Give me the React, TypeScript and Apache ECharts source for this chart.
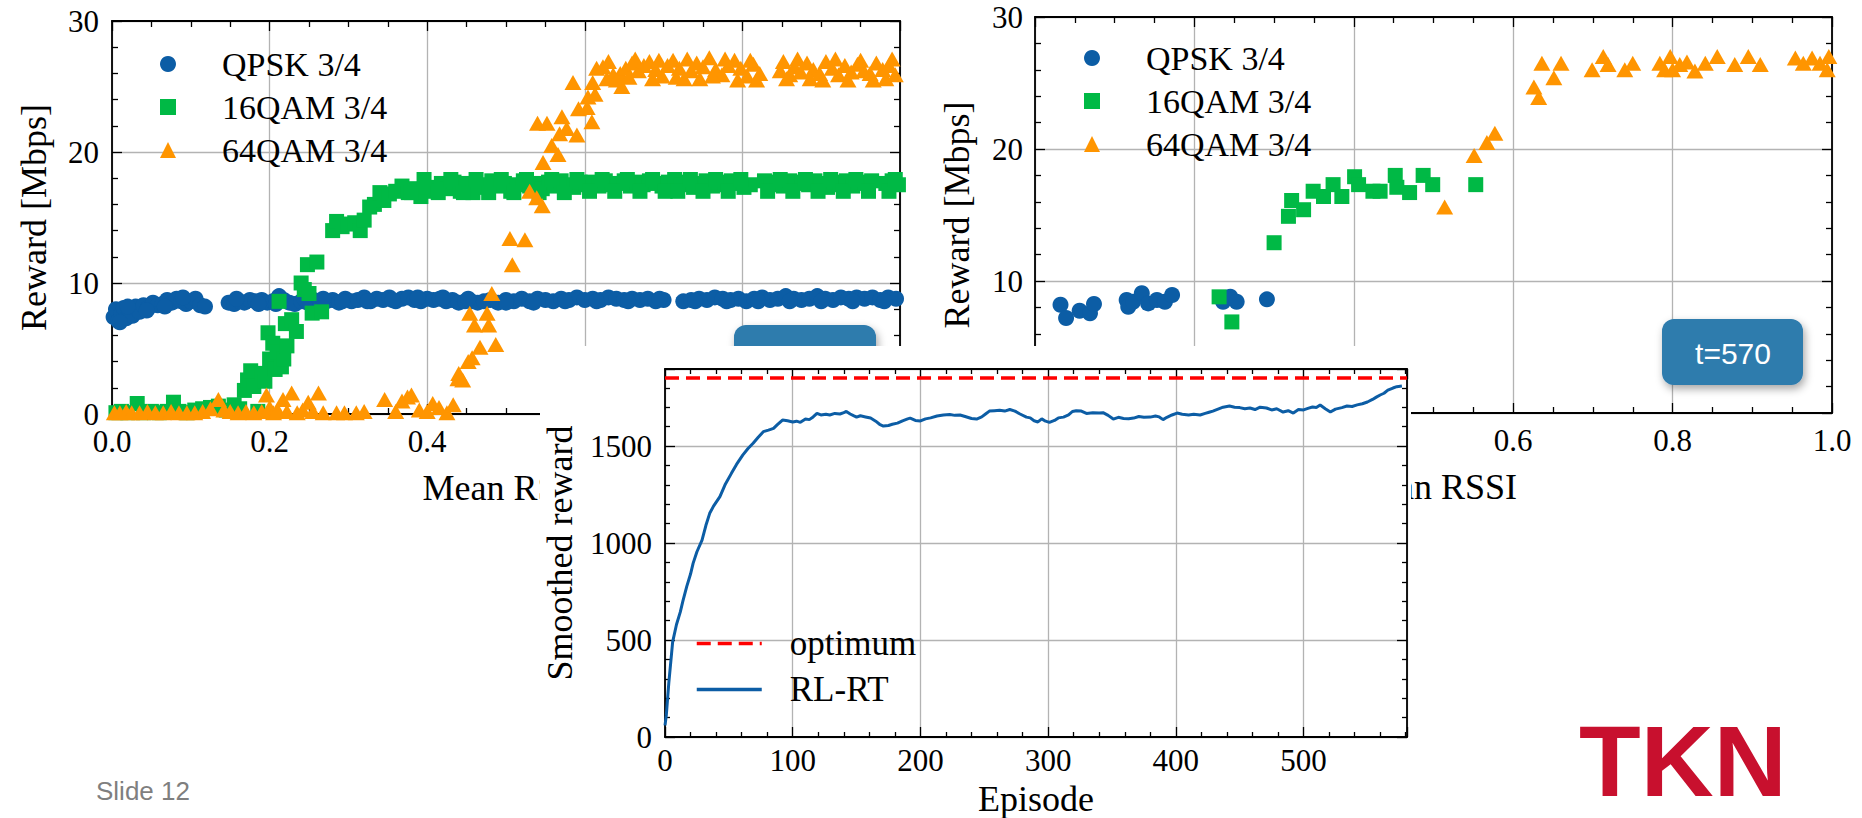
import React, { useEffect, useRef } from "react";
import * as echarts from "echarts";

// ---------------- data ----------------
const SERIES_NAMES = ["QPSK 3/4", "16QAM 3/4", "64QAM 3/4"];
// tick labels that are not hidden behind the inset chart
const LEFT_X_LABELS = [0, 0.2, 0.4];
const RIGHT_X_LABELS = [0.6, 0.8, 1.0];
const LEFT_Y_LABELS = [0, 10, 20, 30];
const RIGHT_Y_LABELS = [10, 20, 30];

const QPSK_LEFT: [number, number][] = [
  [0.002, 7.4], [0.005, 8.0], [0.008, 7.1], [0.012, 7.7], [0.015, 8.1], [0.018, 7.3], [0.022, 7.9], [0.026, 7.5],
  [0.03, 8.2], [0.035, 7.8], [0.04, 8.3], [0.046, 8.1], [0.052, 8.5], [0.058, 8.3], [0.064, 8.4], [0.07, 8.7],
  [0.076, 8.5], [0.082, 8.8], [0.088, 8.6], [0.094, 8.4], [0.1, 8.6], [0.106, 8.8], [0.112, 8.3], [0.118, 8.2],
  [0.148, 8.5], [0.155, 8.4], [0.162, 8.6], [0.168, 8.5], [0.175, 8.7], [0.182, 8.6], [0.19, 8.7], [0.197, 8.5],
  [0.204, 8.6], [0.212, 9.0], [0.218, 8.7], [0.225, 8.5], [0.232, 8.4], [0.24, 8.6], [0.248, 8.5], [0.256, 8.7],
  [0.264, 8.5], [0.272, 8.6], [0.28, 8.7], [0.288, 8.5], [0.296, 8.8], [0.304, 8.6], [0.312, 8.7], [0.32, 8.9],
  [0.328, 8.6], [0.336, 8.8], [0.344, 8.7], [0.352, 8.9], [0.36, 8.6], [0.368, 8.8], [0.376, 8.9], [0.384, 8.7],
  [0.392, 8.6], [0.4, 8.8], [0.408, 8.7], [0.416, 8.8], [0.424, 8.6], [0.432, 8.7], [0.44, 8.5], [0.448, 8.6],
  [0.456, 8.6], [0.464, 8.5], [0.472, 8.6], [0.48, 8.7], [0.49, 8.5], [0.5, 8.7], [0.51, 8.6], [0.52, 8.8],
  [0.53, 8.6], [0.54, 8.8], [0.55, 8.7], [0.56, 8.6], [0.57, 8.8], [0.58, 8.7], [0.59, 8.9], [0.6, 8.7],
  [0.61, 8.8], [0.62, 8.7], [0.63, 8.9], [0.64, 8.8], [0.65, 8.7], [0.66, 8.8], [0.67, 8.7], [0.68, 8.8],
  [0.69, 8.6], [0.7, 8.7], [0.725, 8.6], [0.735, 8.7], [0.745, 8.8], [0.755, 8.7], [0.765, 8.9], [0.775, 8.8],
  [0.785, 8.7], [0.795, 8.8], [0.805, 8.6], [0.815, 8.8], [0.825, 8.9], [0.835, 8.7], [0.845, 8.8], [0.855, 9.0],
  [0.865, 8.8], [0.875, 8.7], [0.885, 8.8], [0.895, 9.0], [0.905, 8.8], [0.915, 8.7], [0.925, 8.9], [0.935, 8.8],
  [0.945, 8.9], [0.955, 8.8], [0.965, 8.9], [0.975, 8.7], [0.985, 8.9], [0.995, 8.8],
  [0.01, 7.0], [0.02, 8.2], [0.044, 7.9], [0.067, 8.2], [0.09, 8.9], [0.158, 8.8], [0.186, 8.4], [0.208, 8.4],
  [0.244, 8.8], [0.268, 8.8], [0.292, 8.6], [0.324, 8.6], [0.356, 8.7], [0.388, 8.9], [0.42, 8.9], [0.452, 8.8],
  [0.5, 8.5], [0.535, 8.5], [0.575, 8.6], [0.615, 8.6], [0.655, 8.6], [0.695, 8.8], [0.74, 8.6], [0.78, 8.6],
  [0.82, 8.6], [0.86, 8.6], [0.9, 8.6], [0.94, 8.6], [0.98, 8.6],
];

const QAM16_LEFT: [number, number][] = [
  [0.005, 0.1], [0.012, 0.2], [0.02, 0.1], [0.032, 0.8], [0.04, 0.1], [0.05, 0.2], [0.06, 0.1], [0.07, 0.2],
  [0.078, 0.9], [0.085, 0.2], [0.095, 0.1], [0.105, 0.3], [0.115, 0.4], [0.125, 0.5], [0.135, 0.6], [0.145, 0.3],
  [0.155, 0.7], [0.162, 0.4], [0.168, 1.8], [0.172, 2.6], [0.176, 3.3], [0.18, 2.1], [0.185, 0.2], [0.19, 3.1],
  [0.194, 2.5], [0.198, 6.2], [0.2, 4.2], [0.204, 5.4], [0.207, 3.4], [0.21, 4.7], [0.212, 8.6], [0.215, 3.6],
  [0.218, 4.2], [0.22, 6.9], [0.222, 5.2], [0.228, 7.2], [0.234, 6.3], [0.24, 10.0], [0.244, 9.5], [0.248, 11.4],
  [0.25, 9.2], [0.254, 7.7], [0.26, 11.6], [0.266, 7.8], [0.28, 14.0], [0.285, 14.7], [0.292, 14.3], [0.3, 14.5],
  [0.308, 14.6], [0.315, 14.0], [0.32, 14.8], [0.327, 15.8], [0.333, 16.0], [0.34, 16.9], [0.345, 16.3], [0.352, 16.8],
  [0.36, 17.0], [0.368, 17.4], [0.376, 16.9], [0.384, 17.2], [0.392, 16.6], [0.4, 17.3], [0.41, 17.0], [0.418, 17.6],
  [0.426, 17.2], [0.434, 17.7], [0.442, 17.0], [0.45, 17.6], [0.458, 16.9], [0.466, 17.5], [0.474, 17.3], [0.482, 17.8],
  [0.49, 17.4], [0.498, 17.6], [0.506, 17.0], [0.514, 17.5], [0.522, 17.8], [0.53, 17.4], [0.538, 17.6], [0.546, 17.2],
  [0.554, 17.7], [0.562, 17.4], [0.57, 17.8], [0.578, 17.5], [0.586, 17.3], [0.594, 17.7], [0.602, 17.5], [0.61, 17.7],
  [0.618, 17.4], [0.626, 17.8], [0.634, 17.5], [0.642, 17.6], [0.65, 17.8], [0.658, 17.4], [0.666, 17.7], [0.674, 17.5],
  [0.682, 17.8], [0.69, 17.6], [0.698, 17.4], [0.706, 17.7], [0.714, 17.9], [0.722, 17.5], [0.73, 17.7], [0.738, 17.3],
  [0.746, 17.6], [0.754, 17.8], [0.762, 17.4], [0.77, 17.7], [0.778, 17.5], [0.786, 17.8], [0.794, 17.6], [0.802, 17.3],
  [0.81, 17.5], [0.828, 17.8], [0.836, 17.5], [0.844, 17.7], [0.852, 17.4], [0.86, 17.8], [0.868, 17.6], [0.876, 17.7],
  [0.884, 17.5], [0.892, 17.8], [0.9, 17.6], [0.908, 17.3], [0.916, 17.7], [0.924, 17.5], [0.932, 17.8], [0.94, 17.4],
  [0.948, 17.7], [0.956, 17.6], [0.964, 17.8], [0.982, 17.6], [0.99, 17.8], [0.998, 17.5],
  [0.38, 16.9], [0.396, 17.9], [0.414, 16.9], [0.43, 17.9], [0.446, 16.9], [0.462, 17.9], [0.478, 16.9], [0.494, 17.9],
  [0.51, 16.9], [0.526, 17.9], [0.542, 16.9], [0.558, 17.9], [0.574, 16.9], [0.59, 17.9], [0.606, 17.0], [0.622, 17.9],
  [0.638, 17.0], [0.654, 17.9], [0.67, 17.0], [0.686, 17.9], [0.702, 17.0], [0.718, 17.0], [0.734, 17.9], [0.75, 17.0],
  [0.766, 17.9], [0.782, 17.0], [0.798, 17.9], [0.832, 17.0], [0.848, 17.9], [0.864, 17.0], [0.88, 17.9], [0.896, 17.0],
  [0.912, 17.9], [0.928, 17.0], [0.944, 17.9], [0.96, 17.0], [0.986, 17.0], [0.994, 17.9],
];

const QAM64_LEFT: [number, number][] = [
  [0.003, 0.1], [0.01, 0.1], [0.018, 0.2], [0.025, 0.1], [0.035, 0.1], [0.045, 0.2], [0.055, 0.1], [0.065, 0.1],
  [0.075, 0.2], [0.085, 0.1], [0.095, 0.1], [0.105, 0.1], [0.115, 0.2], [0.125, 0.4], [0.135, 1.1], [0.142, 0.3],
  [0.15, 0.2], [0.16, 0.1], [0.17, 0.2], [0.18, 0.1], [0.19, 0.2], [0.196, 1.45], [0.2, 0.5], [0.205, 0.1],
  [0.21, 0.3], [0.217, 1.1], [0.222, 0.2], [0.228, 1.6], [0.235, 0.1], [0.242, 0.3], [0.249, 0.9], [0.255, 0.2],
  [0.262, 1.6], [0.268, 0.1], [0.285, 0.1], [0.295, 0.1], [0.31, 0.1], [0.32, 0.2], [0.346, 1.1], [0.36, 0.2],
  [0.368, 1.0], [0.375, 1.3], [0.38, 1.45], [0.39, 0.3], [0.4, 0.2], [0.407, 0.8], [0.415, 0.5], [0.425, 0.1],
  [0.433, 0.7], [0.439, 2.7], [0.44, 3.1], [0.445, 2.6], [0.452, 4.0], [0.457, 4.3], [0.46, 6.8], [0.454, 7.7],
  [0.467, 5.1], [0.476, 7.7], [0.478, 6.8], [0.482, 9.2], [0.487, 5.3], [0.505, 13.4], [0.508, 11.4], [0.524, 13.3],
  [0.53, 17.0], [0.539, 16.5], [0.546, 15.9], [0.547, 19.2], [0.54, 22.2], [0.552, 22.2], [0.558, 20.5], [0.566, 19.8],
  [0.568, 21.4], [0.571, 22.7], [0.577, 21.8], [0.585, 25.3], [0.59, 21.3], [0.592, 23.3], [0.603, 23.4], [0.604, 24.2],
  [0.609, 22.3], [0.61, 25.3], [0.613, 24.4], [0.615, 26.4], [0.623, 26.5], [0.628, 25.6], [0.636, 25.9], [0.645, 26.0],
  [0.647, 25.0], [0.652, 26.4], [0.66, 26.8], [0.668, 26.2], [0.675, 26.6], [0.682, 26.9], [0.69, 26.3], [0.698, 25.8],
  [0.705, 26.6], [0.712, 27.0], [0.72, 26.4], [0.726, 25.6], [0.735, 26.2], [0.742, 26.8], [0.75, 26.5], [0.758, 27.2],
  [0.766, 26.3], [0.774, 25.9], [0.782, 26.6], [0.79, 27.0], [0.798, 26.4], [0.806, 25.8], [0.814, 26.7], [0.822, 26.0],
  [0.848, 26.2], [0.852, 26.9], [0.86, 25.9], [0.866, 26.5], [0.874, 26.1], [0.882, 26.8], [0.89, 26.3], [0.898, 26.0],
  [0.906, 26.9], [0.914, 26.4], [0.922, 25.9], [0.93, 26.6], [0.938, 26.1], [0.946, 26.7], [0.954, 26.2], [0.962, 26.0],
  [0.97, 26.8], [0.978, 26.3], [0.986, 26.6], [0.994, 25.9],
  [0.63, 26.9], [0.64, 25.5], [0.656, 25.7], [0.664, 27.1], [0.686, 25.6], [0.694, 27.0], [0.716, 25.7], [0.73, 27.1],
  [0.746, 25.6], [0.762, 25.8], [0.778, 27.1], [0.794, 25.5], [0.81, 27.0], [0.818, 25.5], [0.856, 25.6], [0.87, 27.1],
  [0.886, 25.6], [0.902, 25.5], [0.918, 27.1], [0.934, 25.5], [0.95, 27.0], [0.966, 25.5], [0.982, 25.6], [0.99, 27.1],
];

const QPSK_RIGHT: [number, number][] = [
  [0.032, 8.2], [0.039, 7.2], [0.056, 7.75], [0.069, 7.55], [0.074, 8.26], [0.115, 8.56], [0.117, 8.05], [0.123, 8.43],
  [0.134, 9.07], [0.142, 8.3], [0.153, 8.56], [0.163, 8.43], [0.172, 8.94], [0.236, 8.43], [0.245, 8.81], [0.253, 8.43],
  [0.291, 8.61],
];

const QAM16_RIGHT: [number, number][] = [
  [0.231, 8.8], [0.247, 6.9], [0.3, 12.9], [0.318, 14.9], [0.322, 16.1], [0.337, 15.4], [0.349, 16.8], [0.362, 16.4],
  [0.374, 17.3], [0.385, 16.4], [0.401, 17.9], [0.406, 17.3], [0.424, 16.8], [0.433, 16.8], [0.452, 18.0], [0.454, 17.1],
  [0.47, 16.7], [0.487, 18.0], [0.499, 17.3], [0.553, 17.3],
];

const QAM64_RIGHT: [number, number][] = [
  [0.514, 15.6], [0.551, 19.5], [0.567, 20.5], [0.577, 21.2], [0.626, 24.7], [0.632, 23.9], [0.636, 26.5], [0.651, 25.4],
  [0.66, 26.5], [0.699, 26.0], [0.713, 27.0], [0.719, 26.4], [0.74, 26.0], [0.75, 26.5], [0.784, 26.5], [0.79, 26.0],
  [0.797, 27.0], [0.8, 26.0], [0.809, 26.4], [0.818, 26.6], [0.828, 25.9], [0.841, 26.5], [0.856, 27.0], [0.878, 26.4],
  [0.895, 27.0], [0.91, 26.4], [0.954, 26.9], [0.964, 26.5], [0.975, 26.9], [0.985, 26.5], [0.994, 26.0], [0.996, 27.0],
];

// smoothed reward per episode [episode, reward]
const RL_RT: [number, number][] = [
  [0, 60], [1, 110], [3, 280], [6, 490], [9, 580], [12, 645], [14, 700], [17, 775], [20, 840], [22, 895], [25, 955],
  [29, 1015], [32, 1090], [35, 1153], [38, 1190], [43, 1239], [47, 1300], [52, 1359], [56, 1405], [61, 1454], [65, 1487],
  [69, 1514], [73, 1545], [77, 1574], [81, 1582], [85, 1591], [88, 1610], [92, 1634], [96, 1630], [100, 1624], [103, 1628],
  [106, 1622], [110, 1639], [113, 1636], [116, 1650], [119, 1668], [122, 1660], [126, 1664], [129, 1660], [133, 1668],
  [137, 1665], [140, 1672], [142, 1678], [145, 1665], [148, 1655], [150, 1649], [153, 1656], [157, 1650], [161, 1644],
  [165, 1628], [168, 1612], [171, 1603], [175, 1606], [178, 1612], [182, 1618], [186, 1630], [190, 1640], [192, 1644],
  [196, 1632], [200, 1629], [204, 1640], [208, 1645], [213, 1655], [218, 1660], [223, 1662], [227, 1658], [231, 1660],
  [235, 1652], [240, 1642], [244, 1639], [248, 1650], [251, 1665], [254, 1680], [258, 1682], [262, 1684], [266, 1680],
  [270, 1688], [274, 1680], [278, 1665], [283, 1649], [286, 1645], [289, 1630], [292, 1624], [295, 1640], [298, 1628],
  [301, 1622], [305, 1632], [308, 1645], [312, 1649], [316, 1660], [319, 1678], [322, 1682], [326, 1680], [330, 1668],
  [335, 1672], [340, 1670], [343, 1672], [347, 1658], [351, 1639], [355, 1648], [359, 1642], [363, 1640], [367, 1644],
  [371, 1652], [375, 1648], [380, 1649], [384, 1655], [387, 1650], [390, 1636], [393, 1648], [397, 1660], [401, 1670],
  [405, 1664], [410, 1660], [414, 1664], [419, 1660], [423, 1668], [426, 1674], [429, 1680], [433, 1690], [437, 1700],
  [442, 1706], [446, 1700], [450, 1698], [454, 1692], [458, 1696], [462, 1688], [466, 1700], [471, 1696], [475, 1686],
  [479, 1692], [484, 1675], [488, 1682], [492, 1670], [496, 1688], [500, 1686], [504, 1695], [507, 1701], [510, 1698],
  [513, 1711], [517, 1692], [521, 1675], [525, 1690], [530, 1698], [534, 1706], [538, 1704], [542, 1712], [546, 1718],
  [550, 1727], [554, 1740], [557, 1752], [560, 1763], [563, 1772], [566, 1788], [570, 1799], [573, 1806], [577, 1809],
];
const OPTIMUM = 1850;
const EPISODE_RANGE = [0, 581];
const REWARD_RANGE = [0, 1897];
const BOX_LABEL = "t=570";

// ---------------- style ----------------
const BLUE = "#0C5DA5";
const GREEN = "#00B945";
const ORANGE = "#FF9500";
const RED = "#FF0000";
const BOX = "#2E7BAD";
const SERIF = "'Liberation Serif', 'Times New Roman', serif";
const SANS = "'Liberation Sans', Arial, sans-serif";
const GRIDC = "#b3b3b3";

const tickLine = { color: "#000", width: 1.3 };

const near = (list: number[], v: number) => list.some((t) => Math.abs(t - v) < 1e-6);

function axis(opts: any) {
  const {
    gridIndex, position, min, max, interval, minorSplit, labels, name, nameGap, labelMargin, fmt, majorLen, minorLen,
  } = opts;
  return {
    type: "value",
    gridIndex,
    position,
    min,
    max,
    interval,
    axisLine: { show: true, onZero: false, lineStyle: { color: "#000", width: 1.8 } },
    axisTick: { show: true, inside: true, length: majorLen, lineStyle: tickLine },
    minorTick: { show: true, splitNumber: minorSplit, length: minorLen, lineStyle: tickLine },
    splitLine: { show: !!labels, lineStyle: { color: GRIDC, width: 1.3 } },
    minorSplitLine: { show: false },
    axisLabel: {
      show: !!labels,
      margin: labelMargin,
      fontFamily: SERIF,
      fontSize: 31,
      color: "#000",
      formatter: fmt,
      showMaxLabel: opts.showMax !== false,
      hideOverlap: false,
    },
    name: labels ? name : "",
    nameLocation: "middle",
    nameGap,
    nameMoveOverlap: false,
    nameTextStyle: { fontFamily: SERIF, fontSize: 36, color: "#000" },
  };
}

function scatter(name: string, data: [number, number][], xi: number, yi: number) {
  const idx = SERIES_NAMES.indexOf(name);
  const color = [BLUE, GREEN, ORANGE][idx];
  const symbol = ["circle", "rect", "triangle"][idx];
  const size = [16, 15, [17, 15]][idx];
  return {
    type: "scatter",
    name,
    data,
    xAxisIndex: xi,
    yAxisIndex: yi,
    symbol,
    symbolSize: size,
    itemStyle: { color, opacity: 1 },
    clip: false,
    z: 3,
  };
}

function legendAt(left: number, top: number) {
  return {
    orient: "vertical",
    left,
    top,
    padding: 0,
    itemWidth: 16,
    itemHeight: 16,
    itemGap: 9,
    data: SERIES_NAMES,
    formatter: (n: string) => `{t|${n}}`,
    textStyle: {
      fontFamily: SERIF,
      fontSize: 34,
      color: "#000",
      rich: { t: { fontFamily: SERIF, fontSize: 34, color: "#000", padding: [0, 0, 0, 41] } },
    },
    selectedMode: false,
  };
}

function buildMain(): any {
  const fmtXL = (v: number) => (near(LEFT_X_LABELS, v) ? v.toFixed(1) : "");
  const fmtXR = (v: number) => (near(RIGHT_X_LABELS, v) ? v.toFixed(1) : "");
  const fmtYL = (v: number) => (near(LEFT_Y_LABELS, v) ? String(v) : "");
  const fmtYR = (v: number) => (near(RIGHT_Y_LABELS, v) ? String(v) : "");
  const base = { min: 0, max: 1, interval: 0.2, minorSplit: 4, majorLen: 10, minorLen: 6 };
  const baseY = { min: 0, max: 30, interval: 10, minorSplit: 5, majorLen: 10, minorLen: 6 };
  const boxStyle = { fill: BOX, shadowBlur: 8, shadowOffsetX: 2, shadowOffsetY: 4, shadowColor: "rgba(0,0,0,0.35)" };
  return {
    animation: false,
    backgroundColor: "#fff",
    grid: [
      { left: 112, top: 21, width: 788, height: 393, outerBoundsMode: "none", containLabel: false },
      { left: 1035, top: 17, width: 797, height: 396, outerBoundsMode: "none", containLabel: false },
    ],
    xAxis: [
      axis({ ...base, gridIndex: 0, position: "bottom", labels: true, name: "Mean RSSI", nameGap: 56, labelMargin: 12, fmt: fmtXL }),
      axis({ ...base, gridIndex: 0, position: "top", labels: false }),
      axis({ ...base, gridIndex: 1, position: "bottom", labels: true, name: "Mean RSSI", nameGap: 56, labelMargin: 12, fmt: fmtXR }),
      axis({ ...base, gridIndex: 1, position: "top", labels: false }),
    ],
    yAxis: [
      axis({ ...baseY, gridIndex: 0, position: "left", labels: true, name: "Reward [Mbps]", nameGap: 60, labelMargin: 13, fmt: fmtYL }),
      axis({ ...baseY, gridIndex: 0, position: "right", labels: false }),
      axis({ ...baseY, gridIndex: 1, position: "left", labels: true, name: "Reward [Mbps]", nameGap: 60, labelMargin: 12, fmt: fmtYR }),
      axis({ ...baseY, gridIndex: 1, position: "right", labels: false }),
    ],
    legend: [legendAt(160, 47), legendAt(1084, 41)],
    series: [
      scatter("QPSK 3/4", QPSK_LEFT, 0, 0),
      scatter("16QAM 3/4", QAM16_LEFT, 0, 0),
      scatter("64QAM 3/4", QAM64_LEFT, 0, 0),
      scatter("QPSK 3/4", QPSK_RIGHT, 2, 2),
      scatter("16QAM 3/4", QAM16_RIGHT, 2, 2),
      scatter("64QAM 3/4", QAM64_RIGHT, 2, 2),
    ],
    graphic: [
      { type: "rect", z: 100, shape: { x: 734, y: 325, width: 142, height: 66, r: 12 }, style: boxStyle },
      { type: "rect", z: 100, shape: { x: 1662, y: 319, width: 141, height: 66, r: 12 }, style: boxStyle },
      {
        type: "text",
        z: 101,
        x: 1733,
        y: 353,
        style: { text: BOX_LABEL, fill: "#fff", font: `30px ${SANS}`, align: "center", verticalAlign: "middle" },
      },
      {
        type: "text",
        z: 101,
        x: 96,
        y: 791,
        style: { text: "Slide 12", fill: "#7f7f7f", font: `26px ${SANS}`, align: "left", verticalAlign: "middle" },
      },
      {
        type: "text",
        z: 101,
        x: 1579,
        y: 761,
        style: { text: "TKN", fill: "#C8102E", font: `bold 101px ${SANS}`, align: "left", verticalAlign: "middle" },
      },
    ],
  };
}

function buildOverlay(): any {
  const fmt = (v: number) => String(v);
  return {
    animation: false,
    backgroundColor: "#fff",
    grid: [{ left: 125, top: 23, width: 742, height: 368, outerBoundsMode: "none", containLabel: false }],
    xAxis: [
      axis({
        gridIndex: 0, position: "bottom", min: EPISODE_RANGE[0], max: EPISODE_RANGE[1], interval: 100, minorSplit: 5,
        majorLen: 10, minorLen: 5, labels: true, name: "Episode", nameGap: 44, labelMargin: 8, fmt, showMax: false,
      }),
      axis({
        gridIndex: 0, position: "top", min: EPISODE_RANGE[0], max: EPISODE_RANGE[1], interval: 100, minorSplit: 5,
        majorLen: 10, minorLen: 5, labels: false,
      }),
    ],
    yAxis: [
      axis({
        gridIndex: 0, position: "left", min: REWARD_RANGE[0], max: REWARD_RANGE[1], interval: 500, minorSplit: 5,
        majorLen: 10, minorLen: 5, labels: true, name: "Smoothed reward", nameGap: 87, labelMargin: 13, fmt, showMax: false,
      }),
      axis({
        gridIndex: 0, position: "right", min: REWARD_RANGE[0], max: REWARD_RANGE[1], interval: 500, minorSplit: 5,
        majorLen: 10, minorLen: 5, labels: false,
      }),
    ],
    legend: {
      orient: "vertical",
      left: 155,
      top: 280,
      padding: 0,
      itemWidth: 65,
      itemHeight: 14,
      itemGap: 11,
      selectedMode: false,
      itemStyle: { opacity: 0 },
      lineStyle: { width: 3.5 },
      data: ["optimum", "RL-RT"],
      formatter: (n: string) => `{t|${n}}`,
      textStyle: {
        fontFamily: SERIF,
        fontSize: 35,
        color: "#000",
        rich: { t: { fontFamily: SERIF, fontSize: 35, color: "#000", padding: [0, 0, 0, 23] } },
      },
    },
    series: [
      {
        type: "line",
        name: "optimum",
        data: [
          [EPISODE_RANGE[0], OPTIMUM],
          [EPISODE_RANGE[1], OPTIMUM],
        ],
        symbol: "none",
        lineStyle: { color: RED, width: 3.5, type: [14, 7] },
        itemStyle: { color: RED },
        z: 4,
      },
      {
        type: "line",
        name: "RL-RT",
        data: RL_RT,
        symbol: "none",
        lineStyle: { color: BLUE, width: 3 },
        itemStyle: { color: BLUE },
        z: 3,
      },
    ],
  };
}

export default function App() {
  const mainRef = useRef<HTMLDivElement>(null);
  const overRef = useRef<HTMLDivElement>(null);
  useEffect(() => {
    const main = echarts.init(mainRef.current as HTMLDivElement, null, { renderer: "svg" });
    main.setOption(buildMain());
    const over = echarts.init(overRef.current as HTMLDivElement, null, { renderer: "svg" });
    over.setOption(buildOverlay());
    return () => {
      main.dispose();
      over.dispose();
    };
  }, []);
  return (
    <div style={{ position: "absolute", left: 0, top: 0, width: 1862, height: 818, background: "#fff" }}>
      <div ref={mainRef} style={{ position: "absolute", left: 0, top: 0, width: 1862, height: 818 }} />
      <div
        ref={overRef}
        style={{ position: "absolute", left: 540, top: 346, width: 871, height: 472, background: "#fff" }}
      />
    </div>
  );
}
